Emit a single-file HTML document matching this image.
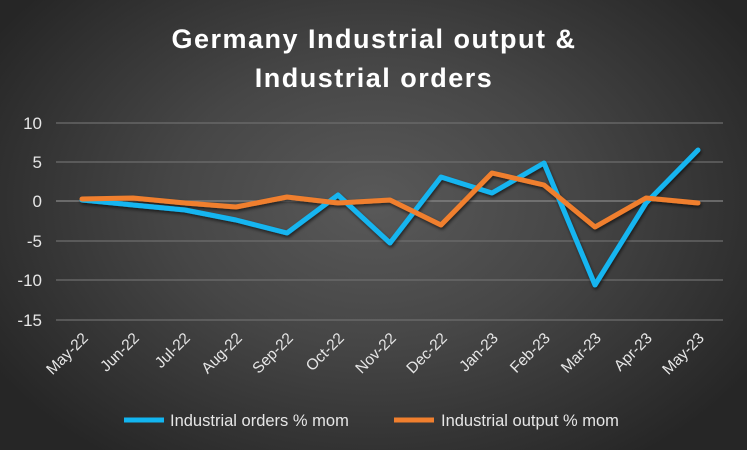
<!DOCTYPE html>
<html><head><style>
body{margin:0;width:747px;height:450px;overflow:hidden;font-family:"Liberation Sans",sans-serif;}
.bg{width:747px;height:450px;background:radial-gradient(ellipse 60% 70% at 50% 45%,#595959 0%,#464646 45%,#262626 100%);}
</style></head><body><div class="bg">
<svg width="747" height="450" xmlns="http://www.w3.org/2000/svg">
<defs><filter id="sh" x="-10%" y="-10%" width="120%" height="130%"><feDropShadow dx="1" dy="2" stdDeviation="1.5" flood-color="#000" flood-opacity="0.6"/></filter></defs>
<g font-family="Liberation Sans, sans-serif" font-weight="bold" fill="#fff" font-size="27" text-anchor="middle" letter-spacing="1.5">
<text x="374" y="48">Germany Industrial output &amp;</text>
<text x="374" y="87">Industrial orders</text></g>
<g stroke="#6e6e6e" stroke-width="1.3">
<line x1="56" x2="723" y1="123" y2="123"/><line x1="56" x2="723" y1="162" y2="162"/>
<line x1="56" x2="723" y1="241" y2="241"/><line x1="56" x2="723" y1="280" y2="280"/><line x1="56" x2="723" y1="320" y2="320"/>
<line x1="56" x2="723" y1="201" y2="201" stroke="#888"/></g>
<g fill="#e6e6e6" font-size="17" text-anchor="end">
<text x="42" y="129">10</text><text x="42" y="168">5</text><text x="42" y="207">0</text>
<text x="42" y="247">-5</text><text x="42" y="286">-10</text><text x="42" y="326">-15</text></g>
<g fill="#e6e6e6" font-size="15.5" text-anchor="end">
<text transform="translate(89,339) rotate(-45)">May-22</text>
<text transform="translate(140,339) rotate(-45)">Jun-22</text>
<text transform="translate(191,339) rotate(-45)">Jul-22</text>
<text transform="translate(243,339) rotate(-45)">Aug-22</text>
<text transform="translate(294,339) rotate(-45)">Sep-22</text>
<text transform="translate(345,339) rotate(-45)">Oct-22</text>
<text transform="translate(397,339) rotate(-45)">Nov-22</text>
<text transform="translate(448,339) rotate(-45)">Dec-22</text>
<text transform="translate(499,339) rotate(-45)">Jan-23</text>
<text transform="translate(551,339) rotate(-45)">Feb-23</text>
<text transform="translate(602,339) rotate(-45)">Mar-23</text>
<text transform="translate(653,339) rotate(-45)">Apr-23</text>
<text transform="translate(705,339) rotate(-45)">May-23</text></g>
<g fill="none" stroke-width="5" stroke-linejoin="round" stroke-linecap="round" filter="url(#sh)">
<polyline stroke="#12b5f0" points="82,200 133,205 185,210 236,220 287,233 338,195 390,243 441,177 492,193 544,163 595,285 646,203 698,150"/>
<polyline stroke="#f07f2e" points="82,199 133,198 185,203 236,207 287,197 338,203 390,200 441,225 492,173 544,185 595,227 646,198 698,203"/>
</g>
<line x1="124" x2="164" y1="420" y2="420" stroke="#12b5f0" stroke-width="5"/>
<text x="170" y="426" fill="#e6e6e6" font-size="16.5">Industrial orders % mom</text>
<line x1="394" x2="434" y1="420" y2="420" stroke="#f07f2e" stroke-width="5"/>
<text x="441" y="426" fill="#e6e6e6" font-size="16.5">Industrial output % mom</text>
</svg></div></body></html>
